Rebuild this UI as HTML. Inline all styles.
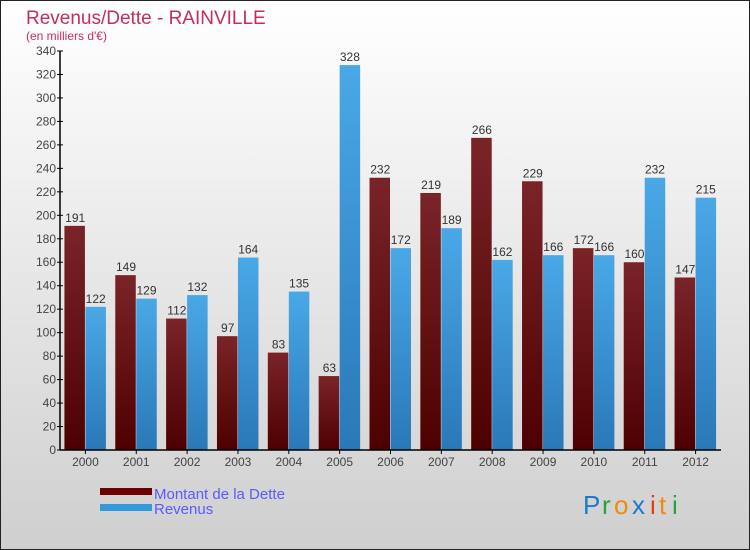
<!DOCTYPE html>
<html><head><meta charset="utf-8"><style>
body{margin:0}
#c{position:relative;width:750px;height:550px;overflow:hidden;font-family:"Liberation Sans",sans-serif}
</style></head><body>
<div id="c">
<svg id="s" width="750" height="550" xmlns="http://www.w3.org/2000/svg">
<defs>
<linearGradient id="bg" x1="0" y1="0" x2="0" y2="1"><stop offset="0" stop-color="#ffffff"/><stop offset="1" stop-color="#cfcfcf"/></linearGradient>
<linearGradient id="gd" x1="0" y1="0" x2="0" y2="1"><stop offset="0" stop-color="#7a2428"/><stop offset="1" stop-color="#4e0000"/></linearGradient>
<linearGradient id="gb" x1="0" y1="0" x2="0" y2="1"><stop offset="0" stop-color="#4aa8e6"/><stop offset="1" stop-color="#2a78b8"/></linearGradient>
</defs>
<rect x="0.5" y="0.5" width="749" height="549" fill="url(#bg)" stroke="#222"/>
<text x="26" y="24" font-size="19" fill="#c0305a">Revenus/Dette - RAINVILLE</text>
<text x="26" y="40" font-size="12" fill="#c0305a">(en milliers d'€)</text>
<g id="plot"></g>
<rect x="100" y="488" width="52" height="7" fill="#6a0000"/>
<text x="154" y="499" font-size="15" fill="#5a5aff">Montant de la Dette</text>
<rect x="100" y="504" width="52" height="7" fill="#3498dc"/>
<text x="154" y="514" font-size="15" fill="#5a5aff">Revenus</text>
<g font-size="26" font-family="Liberation Sans, sans-serif">
<text x="583" y="514" fill="#1a7ad0">P</text><text x="602" y="514" fill="#2aa040">r</text><text x="614" y="514" fill="#f08a10">o</text><text x="632" y="514" fill="#1a7ad0">x</text><text x="650" y="514" fill="#e04010">i</text><text x="659" y="514" fill="#f08a10">t</text><text x="672" y="514" fill="#2aa040">i</text>
</g>
</svg>
</div>
<script>
const years=["2000","2001","2002","2003","2004","2005","2006","2007","2008","2009","2010","2011","2012"];
const dette=[191,149,112,97,83,63,232,219,266,229,172,160,147];
const revenus=[122,129,132,164,135,328,172,189,162,166,166,232,215];
const yTicks=[0,20,40,60,80,100,120,140,160,180,200,220,240,260,280,300,320,340];
const X0=60,X1=721,Y0=450,Y1=51,YMAX=340;
const gw=(X1-X0)/years.length;
function y(v){return Y0-(v/YMAX)*(Y0-Y1);}
function gx(i){return X0+i*gw;}
const ns="http://www.w3.org/2000/svg",g=document.getElementById('plot');
function el(t,a){const e=document.createElementNS(ns,t);for(const k in a)e.setAttribute(k,a[k]);g.appendChild(e);return e;}
yTicks.forEach(v=>{
 const l=el('line',{x1:X0-3,x2:X0+3,y1:y(v),y2:y(v),stroke:'#000'});
 
 
 const t=el('text',{x:X0-4,y:y(v)+4,'text-anchor':'end','font-size':12,fill:'#444'});t.textContent=v;
 
 
});
years.forEach((yr,i)=>{
 const c=gx(i)+gw/2;
 const bw=20.5;
 const r1=el('rect',{x:c-bw-0.5,y:y(dette[i]),width:bw,height:Y0-y(dette[i]),fill:'url(#gd)'});
 
 
 const r2=el('rect',{x:c,y:y(revenus[i]),width:bw,height:Y0-y(revenus[i]),fill:'url(#gb)'});
 
 
 const t1=el('text',{x:c-bw/2,y:y(dette[i])-4,'text-anchor':'middle','font-size':12,fill:'#333'});t1.textContent=dette[i];
 
 
 const t2=el('text',{x:c+bw/2,y:y(revenus[i])-4,'text-anchor':'middle','font-size':12,fill:'#333'});t2.textContent=revenus[i];
 
 
 const tk=el('line',{x1:c,x2:c,y1:Y0,y2:Y0+4,stroke:'#000'});
 
 
 const tl=el('text',{x:c,y:Y0+16,'text-anchor':'middle','font-size':12,fill:'#444'});tl.textContent=yr;
 
 
});
const ya=el('line',{x1:X0,x2:X0,y1:Y1,y2:Y0,stroke:'#000','stroke-width':1.5});


const xa=el('line',{x1:X0,x2:X1,y1:Y0,y2:Y0,stroke:'#000','stroke-width':1.5});


</script>
</body></html>
